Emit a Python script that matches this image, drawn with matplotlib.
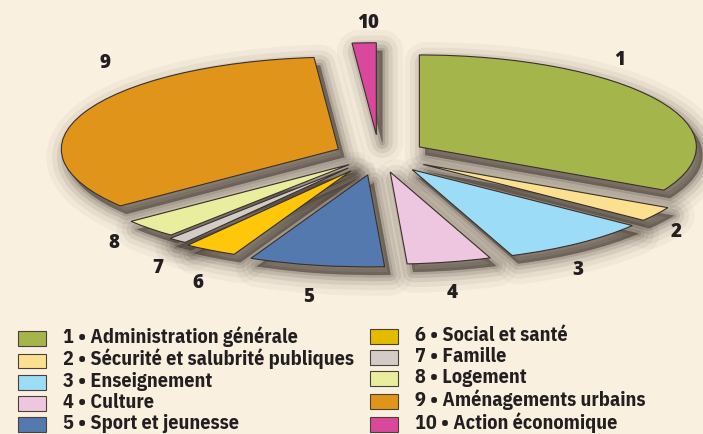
import matplotlib
matplotlib.use("Agg")
import matplotlib.pyplot as plt
from matplotlib.patches import PathPatch, Patch, Rectangle
from matplotlib.transforms import Affine2D
from matplotlib import font_manager as fm
from matplotlib.textpath import TextPath
from matplotlib.legend_handler import HandlerPatch

# ---------------- data ----------------
numbers = ["1", "2", "3", "4", "5", "6", "7", "8", "9", "10"]
categories = ["Administration générale", "Sécurité et salubrité publiques",
              "Enseignement", "Culture", "Sport et jeunesse",
              "Social et santé", "Famille", "Logement",
              "Aménagements urbains", "Action économique"]
shares = [32.8, 2.6, 8.75, 4.9, 7.9, 3.1, 1.1, 3.3, 34.2, 1.4]

# ---------------- style ----------------
bg = "#FAF0E0"
pie_colors = ["#A4B54C", "#FBE18F", "#9CDCF6", "#EDC7DF", "#5479AE",
              "#FFC70A", "#D3CCC6", "#E9ED9E", "#E0951A", "#D9489A"]
legend_colors = ["#A4B54C", "#FDE08F", "#9CDCF6", "#EDC7DF", "#5479AE",
                 "#E3BC00", "#D3CCC6", "#E9ED9E", "#E0951A", "#D9489A"]
explode = [0.17, 0.19, 0.2, 0.19, 0.22, 0.2, 0.18, 0.15, 0.16, 0.22]
# label anchor positions (figure pixels, from top-left)
label_pos = [(620, 60), (676, 232), (578, 270), (452, 293), (309, 297),
             (198, 283), (158, 268), (114, 243), (105, 63), (368, 23)]

W, H = 703, 434
cx, cy, rx, ry = 379, 155, 277, 92  # pie centre and radii in pixels
texts = [f"{n} • {c}" for n, c in zip(numbers, categories)]

# ---- choose a bold condensed font whose proportions best fit the reference
target_w, target_cap = 289.0, 14.0   # px: longest legend entry width, cap height
PX = 100 / 72


def measure(prop):
    wpx = TextPath((0, 0), texts[1], prop=prop).get_extents().width * PX
    cap = TextPath((0, 0), "H", prop=prop).get_extents().height * PX
    return wpx, cap


cands = []
for f in fm.fontManager.ttflist:
    nm = f.name.lower().replace(" ", "")
    st = str(f.stretch).lower()
    w = f.weight
    isbold = (w in ("bold", "heavy", "black", "demibold")
              or (isinstance(w, int) and w >= 650))
    if isbold and ("condensed" in nm or "narrow" in nm or "condensed" in st):
        cands.append(fm.FontProperties(fname=f.fname, size=14))
cands.append(fm.FontProperties(family=["Roboto", "DejaVu Sans"], weight="bold", size=14))

best, best_score, best_size = None, 1e9, 14
for p in cands:
    try:
        wpx, cap = measure(p)
    except Exception:
        continue
    if wpx <= 0 or cap <= 0:
        continue
    s = 14 * target_w / wpx
    score = abs(cap * s / 14 - target_cap)
    if score < best_score:
        best, best_score, best_size = p, score, s
legend_prop = best.copy()
legend_prop.set_size(best_size)
fs_px = best_size * PX
lp_h = TextPath((0, 0), "lp", prop=legend_prop).get_extents().height * PX

fig = plt.figure(figsize=(W / 100, H / 100), dpi=100, facecolor=bg)
ax = fig.add_axes([0, 0, 1, 1])
ax.set_facecolor(bg)

wedges, _ = ax.pie(shares, colors=pie_colors, explode=explode, startangle=90,
                   counterclock=False,
                   wedgeprops=dict(edgecolor="#3a302c", linewidth=0.8, zorder=5))
ax.set_aspect("auto")
ax.set_xlim(-cx / rx, (W - cx) / rx)
ax.set_ylim((cy - H) / ry, cy / ry)
ax.axis("off")

# soft drop shadows
shadow_c = "#3a2f27"
off = ax.transData + Affine2D().translate(6, -8)
for w in wedges:
    path = w.get_path()
    for lw, a in [(30, 0.04), (22, 0.06), (15, 0.09), (9, 0.12), (4, 0.16), (0.5, 0.2)]:
        sp = PathPatch(path, facecolor=shadow_c, edgecolor=shadow_c, linewidth=lw,
                       alpha=a, joinstyle="round", transform=off, zorder=1)
        ax.add_patch(sp)

# slice numbers
for num, (px, py) in zip(numbers, label_pos):
    fig.text(px / W, 1 - py / H, num, ha="center", va="center",
             fontsize=13.5, fontweight=800, color="#231f20",
             family=["Open Sans", "DejaVu Sans"])


# legend squares: bottom sits 3 px under the text baseline
def square(legend, orig_handle, xdescent, ydescent, width, height, fontsize):
    return Rectangle((-xdescent, -3 * 0.72), width, height)


hmap = {Patch: HandlerPatch(patch_func=square)}
handles = [Patch(facecolor=c, edgecolor="#4a4038", linewidth=0.8) for c in legend_colors]
row_h = max(lp_h, 15)
common = dict(frameon=False, handlelength=28 / fs_px,
              handleheight=15 / fs_px, handletextpad=17 / fs_px,
              labelspacing=(20.9 - row_h) / fs_px,
              borderpad=0, borderaxespad=0, loc="upper left", prop=legend_prop,
              handler_map=hmap)
top = 339.5 - row_h / 2 - 4
leg1 = fig.legend(handles[:5], texts[:5], bbox_to_anchor=(18 / W, 1 - top / H), **common)
leg2 = fig.legend(handles[5:], texts[5:], bbox_to_anchor=(370 / W, 1 - top / H), **common)
for leg in (leg1, leg2):
    for t in leg.get_texts():
        t.set_color("#231f20")

fig.savefig("out.png", dpi=100, facecolor=bg)
